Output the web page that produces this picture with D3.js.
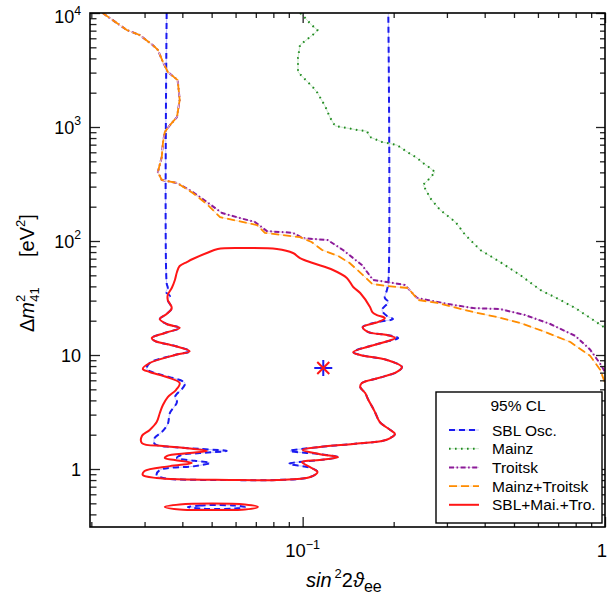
<!DOCTYPE html>
<html>
<head>
<meta charset="utf-8">
<script src="https://cdn.jsdelivr.net/npm/d3@7"></script>
<style>
  body { margin: 0; background: #fff; }
  svg { display: block; font-family: "Liberation Sans", Arial, Helvetica, sans-serif; }
</style>
</head>
<body>
<svg id="chart" width="608" height="597"></svg>
<script>
// axis ranges (sin^2 2theta, delta m^2 in eV^2)
const xDomain = [0.0198, 1];
const yDomain = [0.31, 1e4];

// tick labels: [base, exponent]
const xTickValues = [0.1, 1];
const xTickLabels = [['10', '\u22121'], ['1', '']];
const yTickValues = [1, 10, 100, 1000, 10000];
const yTickLabels = [['1', ''], ['10', ''], ['10', '2'], ['10', '3'], ['10', '4']];

// Troitsk limit [sin^2 2theta, dm^2]
const troitskCurve = [
    [0.0218, 10000], [0.0262, 7090], [0.0289, 6410], [0.0319, 5240], [0.0332, 4740],
    [0.0345, 3720], [0.0358, 3040], [0.0386, 2580], [0.0392, 1730], [0.0384, 1220],
    [0.0364, 1040], [0.0350, 904], [0.0345, 724], [0.0342, 546], [0.0332, 403],
    [0.0342, 343], [0.0384, 323], [0.0433, 269], [0.0482, 220], [0.0541, 176],
    [0.0620, 159], [0.0695, 147], [0.0762, 122], [0.0929, 118], [0.100, 106],
    [0.121, 102], [0.136, 83.4], [0.157, 61.6], [0.171, 45.5], [0.190, 43.7],
    [0.218, 41.1], [0.239, 31.6], [0.279, 29.2], [0.315, 27.5], [0.367, 25.8],
    [0.450, 25.3], [0.545, 22.4], [0.659, 18.7], [0.798, 14.7], [0.894, 11.1],
    [0.965, 8.34], [1.0, 7.10]
];

// Mainz+Troitsk combined limit
const mainzTroitskCurve = [
    [0.0218, 10000], [0.0262, 7090], [0.0289, 6410], [0.0319, 5240], [0.0332, 4740],
    [0.0345, 3720], [0.0358, 3040], [0.0386, 2580], [0.0392, 1730], [0.0384, 1220],
    [0.0364, 1040], [0.0350, 904], [0.0345, 724], [0.0342, 546], [0.0332, 403],
    [0.0342, 343], [0.0384, 323], [0.0433, 264], [0.0482, 211], [0.0533, 162],
    [0.0706, 138], [0.0750, 118], [0.0980, 108], [0.107, 98.0], [0.116, 83.4],
    [0.131, 73.9], [0.143, 64.1], [0.157, 51.3], [0.170, 42.0], [0.190, 40.3],
    [0.223, 38.7], [0.241, 30.4], [0.279, 28.6], [0.315, 26.4], [0.367, 23.8],
    [0.440, 21.5], [0.524, 19.1], [0.635, 15.9], [0.768, 13.0], [0.894, 9.80],
    [0.965, 7.39], [1.0, 5.68]
];

// Mainz limit
const mainzCurve = [
    [0.0980, 10000], [0.102, 9040], [0.107, 7850], [0.112, 7090], [0.110, 6680],
    [0.0980, 5240], [0.0965, 4030], [0.0965, 3040], [0.100, 2750], [0.108, 2240],
    [0.112, 1990], [0.119, 1500], [0.123, 1220], [0.128, 1020], [0.140, 980],
    [0.152, 941], [0.163, 922], [0.167, 817], [0.183, 739], [0.205, 695],
    [0.222, 603], [0.239, 535], [0.250, 483], [0.264, 437], [0.274, 403],
    [0.264, 357], [0.250, 310], [0.258, 269], [0.264, 238], [0.285, 187],
    [0.320, 147], [0.345, 113], [0.387, 83.4], [0.450, 65.4], [0.524, 50.3],
    [0.611, 37.2], [0.711, 30.4], [0.798, 25.8], [0.894, 21.1], [1.0, 17.3]
];

// SBL oscillation region (open at the top)
const sblCurve = [
    [0.0355, 10000], [0.0355, 42.8], [0.0358, 38.7], [0.0353, 35.7], [0.0364, 32.9],
    [0.0358, 30.4], [0.0369, 25.8], [0.0355, 22.9], [0.0337, 20.7], [0.0355, 18.7],
    [0.0392, 17.3], [0.0350, 15.6], [0.0317, 14.1], [0.0324, 13.3], [0.0378, 12.0],
    [0.0423, 10.8], [0.0378, 10.0], [0.0312, 8.51], [0.0305, 7.54], [0.0317, 7.10],
    [0.0342, 6.68], [0.0408, 5.68], [0.0401, 5.13], [0.0378, 4.28], [0.0384, 3.87],
    [0.0364, 3.10], [0.0358, 2.48], [0.0342, 2.11], [0.0324, 1.87], [0.0324, 1.66],
    [0.0372, 1.56], [0.0457, 1.50], [0.0561, 1.44], [0.0457, 1.38], [0.0398, 1.33],
    [0.0384, 1.25], [0.0440, 1.18], [0.0493, 1.13], [0.0440, 1.06], [0.0337, 0.980],
    [0.0329, 0.886], [0.0345, 0.834], [0.0574, 0.801], [0.0822, 0.801], [0.106, 0.851],
    [0.112, 0.941], [0.107, 1.02], [0.0901, 1.11], [0.114, 1.20], [0.131, 1.27],
    [0.114, 1.35], [0.0908, 1.44], [0.114, 1.56], [0.147, 1.66], [0.183, 1.76],
    [0.195, 1.87], [0.202, 2.03], [0.195, 2.20], [0.180, 2.58], [0.174, 3.10],
    [0.170, 3.50], [0.165, 4.03], [0.161, 4.64], [0.155, 5.24], [0.157, 5.68],
    [0.178, 6.28], [0.205, 7.10], [0.213, 7.85], [0.190, 9.04], [0.155, 10.0],
    [0.147, 10.6], [0.187, 13.0], [0.207, 14.1], [0.190, 15.0], [0.165, 15.9],
    [0.158, 17.6], [0.178, 19.5], [0.199, 20.7], [0.190, 22.0], [0.183, 24.8],
    [0.192, 29.2], [0.187, 31.6], [0.190, 37.2], [0.192, 42.8], [0.192, 10000]
];
const sblIsland = [
    [0.0417, 0.464], [0.0457, 0.478], [0.0513, 0.483], [0.0597, 0.478],
    [0.0644, 0.464], [0.0597, 0.450], [0.0513, 0.445], [0.0457, 0.450]
];

// SBL+Mainz+Troitsk combined region (closed)
const globalContour = [
    [0.0378, 45.5], [0.0384, 53.5], [0.0392, 60.4], [0.0414, 65.4], [0.0433, 69.5],
    [0.0482, 78.5], [0.0524, 85.1], [0.0620, 86.8], [0.0822, 85.1], [0.0929, 78.5],
    [0.0980, 70.9], [0.108, 64.1], [0.126, 55.7], [0.140, 47.4], [0.147, 39.5],
    [0.155, 35.0], [0.167, 26.4], [0.170, 23.8], [0.176, 22.4], [0.187, 21.1],
    [0.178, 19.5], [0.158, 17.6], [0.165, 15.9], [0.190, 15.0], [0.202, 14.1],
    [0.187, 13.0], [0.147, 10.6], [0.155, 10.0], [0.190, 9.04], [0.213, 7.85],
    [0.205, 7.10], [0.178, 6.28], [0.157, 5.68], [0.155, 5.24], [0.161, 4.64],
    [0.165, 4.03], [0.170, 3.50], [0.174, 3.10], [0.180, 2.58], [0.195, 2.20],
    [0.202, 2.03], [0.195, 1.87], [0.183, 1.76], [0.147, 1.66], [0.114, 1.56],
    [0.100, 1.47], [0.114, 1.35], [0.131, 1.27], [0.114, 1.20], [0.0995, 1.15],
    [0.107, 1.02], [0.112, 0.941], [0.106, 0.851], [0.0822, 0.801], [0.0574, 0.801],
    [0.0329, 0.834], [0.0296, 0.886], [0.0300, 0.961], [0.0364, 1.06], [0.0430, 1.13],
    [0.0378, 1.20], [0.0350, 1.25], [0.0355, 1.30], [0.0423, 1.38], [0.0482, 1.44],
    [0.0408, 1.53], [0.0345, 1.59], [0.0294, 1.69], [0.0294, 1.95], [0.0312, 2.20],
    [0.0329, 2.58], [0.0337, 3.10], [0.0345, 3.64], [0.0358, 4.28], [0.0381, 4.93],
    [0.0392, 5.68], [0.0355, 6.41], [0.0312, 7.10], [0.0296, 7.54], [0.0312, 8.51],
    [0.0378, 10.0], [0.0423, 10.8], [0.0378, 12.0], [0.0324, 13.3], [0.0317, 14.1],
    [0.0350, 15.6], [0.0392, 17.3], [0.0355, 18.7], [0.0337, 20.7], [0.0355, 22.9],
    [0.0369, 25.8], [0.0358, 30.4], [0.0358, 33.6], [0.0369, 38.7]
];
const globalIsland = [
    [0.0350, 0.464], [0.0392, 0.488], [0.0501, 0.498], [0.0644, 0.488],
    [0.0711, 0.464], [0.0644, 0.441], [0.0501, 0.437], [0.0392, 0.441]
];

// best-fit point
const bestFit = [0.117, 7.7];

const legendTitle = '95% CL';
const legendKeys = ['sbl', 'mainz', 'troitsk', 'combo', 'global'];
const legendLabels = ['SBL Osc.', 'Mainz', 'Troitsk', 'Mainz+Troitsk', 'SBL+Mai.+Tro.'];

const styles = {
    sbl:     { color: '#1b1bf0', width: 2,   dash: '6,4',           under: '#c2c2ff' },
    mainz:   { color: '#1f8a1f', width: 2,   dash: '1.6,4.4',       under: '#cde8cd' },
    troitsk: { color: '#8c1a98', width: 2,   dash: '5,2.5,1.6,2.5', under: '#e4c6ea' },
    combo:   { color: '#ff8c00', width: 1.8, dash: '8,4',           under: '#ffe2c0' },
    global:  { color: '#ff1616', width: 2,   dash: null,            under: null }
};

class NeutrinoChart {
    constructor() {
        this.svg = d3.select('#chart');
        this.left = 90;
        this.right = 605;
        this.top = 13;
        this.bottom = 527;

        this.x = d3.scaleLog().domain(xDomain).range([this.left, this.right]);
        this.y = d3.scaleLog().domain(yDomain).range([this.bottom, this.top]);

        this.drawCurves();
        this.drawFrame();
        this.drawLabels();
        this.drawLegend();
    }

    isDecade(v) {
        const l = Math.log10(v);
        return Math.abs(l - Math.round(l)) < 1e-9;
    }

    drawFrame() {
        const x = this.x, y = this.y;
        const xMinor = x.ticks().filter(v => !this.isDecade(v));
        const yMinor = y.ticks().filter(v => !this.isDecade(v));
        const yMajor = y.ticks().filter(v => this.isDecade(v));

        const tickAxis = (axis, values, size, transform) => {
            this.svg.append('g')
                .attr('transform', transform)
                .call(axis.tickValues(values).tickSize(size).tickFormat(''))
                .call(g => g.select('.domain').remove())
                .call(g => g.selectAll('line').attr('stroke', '#222').attr('stroke-width', 1.3));
        };

        // ticks point inwards on all four sides
        tickAxis(d3.axisBottom(x), xMinor, -5, `translate(0,${this.bottom})`);
        tickAxis(d3.axisBottom(x), xTickValues, -10, `translate(0,${this.bottom})`);
        tickAxis(d3.axisTop(x), xMinor, -5, `translate(0,${this.top})`);
        tickAxis(d3.axisTop(x), xTickValues, -10, `translate(0,${this.top})`);
        tickAxis(d3.axisLeft(y), yMinor, -6.5, `translate(${this.left},0)`);
        tickAxis(d3.axisLeft(y), yMajor, -10, `translate(${this.left},0)`);
        tickAxis(d3.axisRight(y), yMinor, -5, `translate(${this.right},0)`);
        tickAxis(d3.axisRight(y), yMajor, -9, `translate(${this.right},0)`);

        this.svg.append('rect')
            .attr('x', this.left)
            .attr('y', this.top)
            .attr('width', this.right - this.left)
            .attr('height', this.bottom - this.top)
            .attr('fill', 'none')
            .attr('stroke', '#000')
            .attr('stroke-width', 1.6);
    }

    strokePath(g, pathData, style) {
        if (style.under) {
            g.append('path')
                .attr('d', pathData)
                .attr('fill', 'none')
                .attr('stroke', style.under)
                .attr('stroke-width', 1);
        }
        g.append('path')
            .attr('d', pathData)
            .attr('fill', 'none')
            .attr('stroke', style.color)
            .attr('stroke-width', style.width)
            .attr('stroke-dasharray', style.dash)
            .attr('stroke-linejoin', 'round');
    }

    drawCurves() {
        const x = this.x, y = this.y;
        this.svg.append('clipPath').attr('id', 'plot-clip')
            .append('rect')
            .attr('x', this.left).attr('y', this.top)
            .attr('width', this.right - this.left)
            .attr('height', this.bottom - this.top);

        const g = this.svg.append('g').attr('clip-path', 'url(#plot-clip)');

        const straight = d3.line().x(d => x(d[0])).y(d => y(d[1]));
        const smooth = d3.line().x(d => x(d[0])).y(d => y(d[1]))
            .curve(d3.curveCatmullRom.alpha(0.5));
        const closed = d3.line().x(d => x(d[0])).y(d => y(d[1]))
            .curve(d3.curveCatmullRomClosed.alpha(0.5));

        this.strokePath(g, smooth(sblCurve), styles.sbl);
        this.strokePath(g, closed(sblIsland), styles.sbl);
        this.strokePath(g, straight(mainzCurve), styles.mainz);
        this.strokePath(g, straight(troitskCurve), styles.troitsk);
        this.strokePath(g, straight(mainzTroitskCurve), styles.combo);
        this.strokePath(g, closed(globalContour), styles.global);
        this.strokePath(g, closed(globalIsland), styles.global);

        // best-fit marker: blue plus under a red cross
        const bx = x(bestFit[0]), by = y(bestFit[1]);
        g.append('path')
            .attr('d', `M${bx - 9},${by}H${bx + 9}M${bx},${by - 8}V${by + 8}`)
            .attr('stroke', styles.sbl.color).attr('stroke-width', 2);
        g.append('path')
            .attr('d', `M${bx - 6},${by - 6}L${bx + 6},${by + 6}M${bx - 6},${by + 6}L${bx + 6},${by - 6}`)
            .attr('stroke', styles.global.color).attr('stroke-width', 2);
    }

    powerText(px, py, base, exp, anchor, size) {
        const t = this.svg.append('text')
            .attr('x', px).attr('y', py)
            .attr('text-anchor', anchor)
            .attr('font-size', size)
            .attr('fill', '#000');
        t.append('tspan').text(base);
        if (exp) {
            t.append('tspan').attr('dy', -size * 0.45).attr('font-size', size * 0.68).text(exp);
        }
    }

    drawLabels() {
        const x = this.x, y = this.y;

        yTickValues.forEach((v, i) => {
            const [base, exp] = yTickLabels[i];
            this.powerText(81, Math.max(y(v) + 6.5, 23), base, exp, 'end', 18);
        });
        xTickValues.forEach((v, i) => {
            const [base, exp] = xTickLabels[i];
            // keep the last label inside the page edge
            this.powerText(Math.min(x(v), 602), 557, base, exp, 'middle', 18.5);
        });

        // x title: sin^2 2theta_ee
        const xt = this.svg.append('text')
            .attr('x', 306).attr('y', 587)
            .attr('font-size', 20).attr('fill', '#000');
        xt.append('tspan').attr('font-style', 'italic').text('sin');
        xt.append('tspan').attr('dx', 3).attr('dy', -9).attr('font-size', 13).text('2');
        xt.append('tspan').attr('dy', 9).text('2');
        xt.append('tspan').attr('font-style', 'italic').text('\u03D1');
        xt.append('tspan').attr('dy', 5).attr('font-size', 16).text('ee');

        // y title: delta m^2_41 [eV^2]
        const yt = this.svg.append('text')
            .attr('transform', 'translate(34,332) rotate(-90)')
            .attr('font-size', 20).attr('fill', '#000');
        yt.append('tspan').text('\u0394');
        yt.append('tspan').attr('font-style', 'italic').text('m');
        yt.append('tspan').attr('dy', -9).attr('font-size', 13).text('2');
        yt.append('tspan').attr('dx', -7).attr('dy', 14).attr('font-size', 13).text('41');

        const yu = this.svg.append('text')
            .attr('transform', 'translate(34,257) rotate(-90)')
            .attr('font-size', 20).attr('fill', '#000');
        yu.append('tspan').text('[eV');
        yu.append('tspan').attr('dy', -9).attr('font-size', 13).text('2');
        yu.append('tspan').attr('dy', 9).text(']');
    }

    drawLegend() {
        const g = this.svg.append('g');
        g.append('rect')
            .attr('x', 436).attr('y', 392)
            .attr('width', 166).attr('height', 131)
            .attr('fill', '#fff')
            .attr('stroke', '#000')
            .attr('stroke-width', 1.4);

        g.append('text')
            .attr('x', 518).attr('y', 410.5)
            .attr('text-anchor', 'middle')
            .attr('font-size', 15.5)
            .text(legendTitle);

        const rows = g.selectAll('.legend-item')
            .data(legendKeys)
            .enter()
            .append('g')
            .attr('class', 'legend-item')
            .attr('transform', (d, i) => `translate(0,${430 + i * 18.7})`);

        rows.each((key, i, nodes) => {
            const row = d3.select(nodes[i]);
            this.strokePath(row, 'M449,0H479', styles[key]);
            row.append('text')
                .attr('x', 492).attr('y', 5.5)
                .attr('font-size', 15.5)
                .text(legendLabels[i]);
        });
    }
}

new NeutrinoChart();
</script>
</body>
</html>
